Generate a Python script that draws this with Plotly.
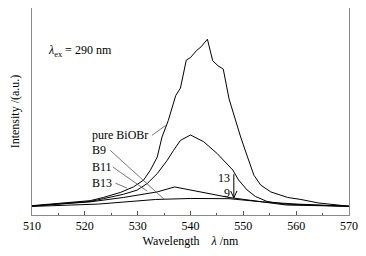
import plotly.graph_objects as go

# ---- data (wavelength nm, intensity a.u.) ----
pure_x = [510, 516.6, 521.0, 523.5, 526.7, 529.2, 531.1, 532.4, 533.7, 534.6, 535.8, 537.2, 538.1,
          539.2, 540.0, 541.1, 542.0, 543.2, 544.2, 545.2, 546.2, 547.3, 548.5, 549.5, 550.8,
          552.0, 553.3, 555.2, 558.4, 560.9, 564.1, 570]
pure_y = [47, 64, 72, 88, 113, 141, 175, 225, 291, 391, 475, 600, 638,
          778, 791, 825, 845, 883, 775, 750, 733, 583, 475, 391, 291,
          200, 150, 116, 88, 78, 61, 44]

b9_x = [510, 521.0, 523.5, 527.3, 529.9, 531.8, 533.7, 535.6, 536.8, 538.1, 540.0, 542.5, 545.0,
        546.9, 548.0, 549.1, 550.7, 552.3, 554.5, 557.7, 564.0, 570]
b9_y = [45, 68, 82, 104, 125, 158, 208, 275, 325, 375, 402, 368, 310,
        260, 226, 176, 126, 93, 68, 55, 48, 43]

b11_x = [510, 521.0, 527.3, 533.7, 537.0, 541.0, 544.2, 547.3, 553.6, 560.0, 570]
b11_y = [45, 66, 88, 116, 141, 121, 105, 88, 66, 55, 44]

b13_x = [510, 522.6, 533.4, 540.0, 547.3, 553.6, 558.2, 570]
b13_y = [43, 55, 78, 83, 82, 66, 50, 44]

series_names = ["pure BiOBr", "B9", "B11", "B13"]

# labels: text, text left point (x, y), leader start (x, y), leader end (x, y)
label_text = ["pure BiOBr", "B9", "B11", "B13"]
label_x = [521.0, 521.0, 521.0, 521.0]
label_y = [400, 325, 241, 160]
leader_start_x = [532.7, 524.8, 525.3, 525.8]
leader_start_y = [400, 325, 241, 160]
leader_end_x = [535.3, 535.1, 531.8, 528.0]
leader_end_y = [450, 77, 120, 135]

# 13 -> 9 arrow
arrow_x = 548.2
arrow_from_y = 205
arrow_to_y = 86
head_dx = 0.6
head_dy = 35

x_ticks = [510, 520, 530, 540, 550, 560, 570]

FONT = "Liberation Serif, Times New Roman, serif"

fig = go.Figure()
for xs, ys, nm in [(pure_x, pure_y, series_names[0]), (b9_x, b9_y, series_names[1]),
                   (b11_x, b11_y, series_names[2]), (b13_x, b13_y, series_names[3])]:
    fig.add_trace(go.Scatter(x=xs, y=ys, mode="lines", name=nm,
                             line=dict(color="black", width=1), showlegend=False))

# leader lines + labels
for t, lx, ly, sx, sy, ex, ey in zip(label_text, label_x, label_y, leader_start_x,
                                      leader_start_y, leader_end_x, leader_end_y):
    fig.add_shape(type="line", x0=sx, y0=sy, x1=ex, y1=ey, xref="x", yref="y",
                  line=dict(color="#555", width=0.8))
    fig.add_annotation(x=lx, y=ly, xref="x", yref="y", text=t, showarrow=False,
                       xanchor="left", yanchor="middle",
                       font=dict(family=FONT, size=12, color="black"))

# excitation label
fig.add_annotation(x=512.6, y=825, xref="x", yref="y", showarrow=False,
                   text="<i>λ</i><sub>ex</sub> = 290 nm", xanchor="left", yanchor="middle",
                   font=dict(family=FONT, size=12, color="black"))

# arrow 13 -> 9 (shaft + open head)
fig.add_shape(type="line", x0=arrow_x, y0=arrow_from_y, x1=arrow_x, y1=arrow_to_y,
              xref="x", yref="y", line=dict(color="black", width=1))
for sgn in (-1, 1):
    fig.add_shape(type="line", x0=arrow_x + sgn * head_dx, y0=arrow_to_y + head_dy,
                  x1=arrow_x, y1=arrow_to_y, xref="x", yref="y",
                  line=dict(color="black", width=1))
fig.add_annotation(x=547.9, y=184, xref="x", yref="y", text="13", showarrow=False,
                   xanchor="right", yanchor="middle", font=dict(family=FONT, size=12, color="black"))
fig.add_annotation(x=547.9, y=112, xref="x", yref="y", text="9", showarrow=False,
                   xanchor="right", yanchor="middle", font=dict(family=FONT, size=12, color="black"))

fig.update_layout(
    width=358, height=248,
    margin=dict(l=24, r=17, t=0, b=41),
    paper_bgcolor="white", plot_bgcolor="white",
    font=dict(family=FONT, size=12, color="black"),
)
fig.update_xaxes(range=[510, 570], tickvals=x_ticks, ticks="inside", ticklen=4, tickcolor="#555",
                 showline=True, linecolor="#888", linewidth=1, mirror=True, showgrid=False,
                 zeroline=False, tickfont=dict(family=FONT, size=12),
                 minor=dict(dtick=5, tick0=510, ticks="inside", ticklen=2, tickcolor="#555"),
                 title=dict(text="Wavelength    <i>λ</i> /nm", font=dict(family=FONT, size=12), standoff=4))
fig.update_yaxes(range=[0, 1040], showticklabels=False, ticks="", showline=True, linecolor="#888",
                 linewidth=1, mirror=True, showgrid=False, zeroline=False,
                 title=dict(text="Intensity /(a.u.)", font=dict(family=FONT, size=12), standoff=9))

fig.write_html("out.html")
